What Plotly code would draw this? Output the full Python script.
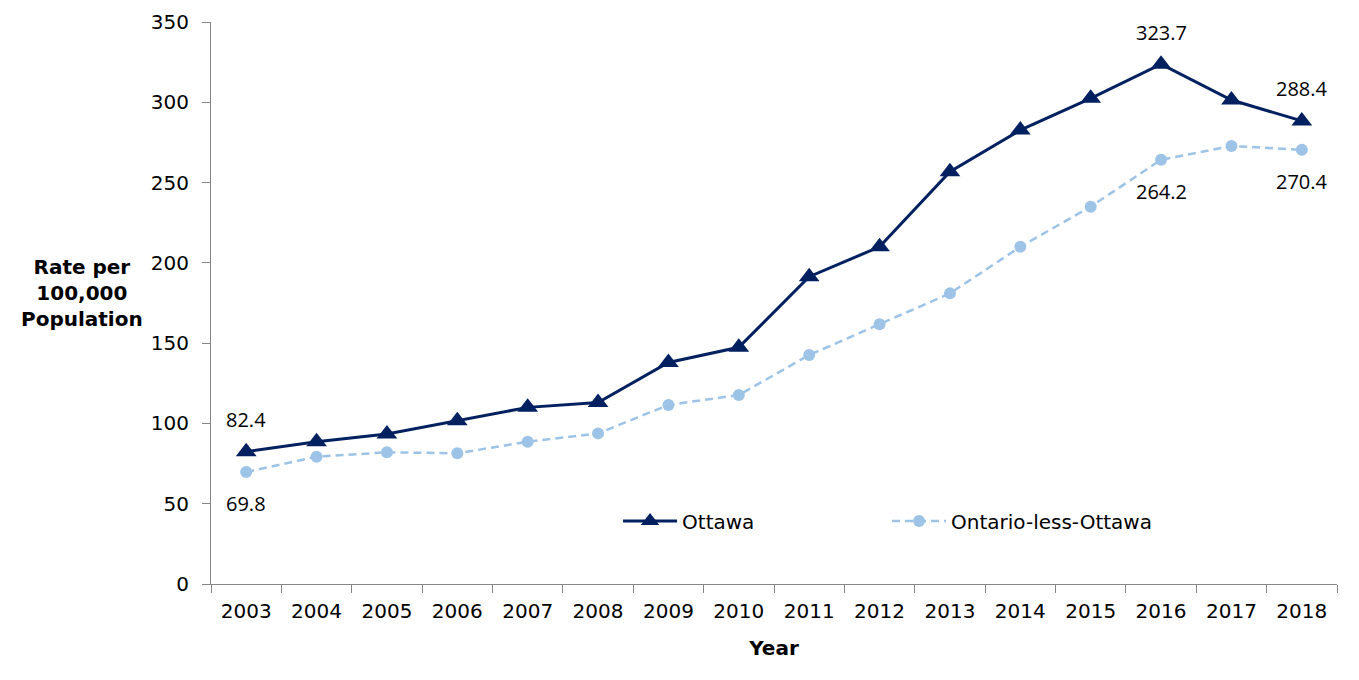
import plotly.graph_objects as go

years = [str(y) for y in range(2003, 2019)]
ottawa = [82.4, 88.6, 93.4, 101.7, 110.0, 113.0, 138.0, 147.4, 191.4, 210.0,
          256.8, 282.7, 302.5, 323.7, 301.4, 288.4]
ontario_less_ottawa = [69.8, 79.3, 82.0, 81.4, 88.6, 93.8, 111.5, 117.7, 142.6, 161.7,
                       181.0, 210.0, 235.0, 264.2, 272.8, 270.4]
y_ticks = [0, 50, 100, 150, 200, 250, 300, 350]

# which points get a value label, and above (+) or below (-)
labels_ottawa = {0: 1, 13: 1, 15: 1}
labels_ontario = {0: -1, 13: -1, 15: -1}

navy = "#002060"
light_blue = "#9DC3E6"
axis_grey = "#868686"
main_font = "DejaVu Sans, Liberation Sans, Arial"

fig = go.Figure()

fig.add_trace(go.Scatter(
    x=years, y=ottawa, name="Ottawa", mode="lines+markers",
    line=dict(color=navy, width=3),
    marker=dict(symbol="triangle-up", size=18, color=navy),
))
fig.add_trace(go.Scatter(
    x=years, y=ontario_less_ottawa, name="Ontario-less-Ottawa", mode="lines+markers",
    line=dict(color=light_blue, width=2.5, dash="8px,5px"),
    marker=dict(symbol="circle", size=12, color=light_blue),
))

# value labels (x given as category index)
for series, lbls in ((ottawa, labels_ottawa), (ontario_less_ottawa, labels_ontario)):
    for i, side in lbls.items():
        fig.add_annotation(
            x=i, y=series[i], text=f"{series[i]:.1f}",
            showarrow=False, yshift=32 * side,
            font=dict(family="Open Sans, Lato, sans-serif", size=20, color="black"),
        )

# horizontal y axis title
fig.add_annotation(
    xref="paper", yref="paper", x=-0.1146, y=0.518, xanchor="center", yanchor="middle",
    text="<b>Rate per<br>100,000<br>Population</b>", showarrow=False,
    font=dict(family=main_font, size=20, color="black"),
    align="center",
)

# page has an 8px body margin, so the figure is a bit smaller than the window
fig.update_layout(
    width=1343, height=664,
    margin=dict(l=203, r=14, t=14, b=88, autoexpand=False),
    paper_bgcolor="white", plot_bgcolor="white",
    font=dict(family=main_font, size=20, color="black"),
    showlegend=True,
    legend=dict(
        orientation="h", x=0.3615, y=0.112, xanchor="left", yanchor="middle",
        itemwidth=54, entrywidth=200, font=dict(size=20), bgcolor="rgba(0,0,0,0)",
    ),
)

fig.update_xaxes(
    type="category", categoryorder="array", categoryarray=years,
    range=[-0.5, len(years) - 0.5], tickangle=0, automargin=False,
    tickson="boundaries", ticks="outside", ticklen=8, ticklabelstandoff=9,
    tickcolor=axis_grey, showline=True, linecolor=axis_grey, linewidth=1,
    showgrid=False, title=dict(text="<b>Year</b>", font=dict(size=20), standoff=18),
)
fig.update_yaxes(
    range=[0, 350], tickvals=y_ticks, ticks="outside", ticklen=8, ticklabelstandoff=9,
    tickcolor=axis_grey, showline=True, linecolor=axis_grey, linewidth=1,
    showgrid=False, zeroline=False, automargin=False,
)

fig.write_html("out.html")
